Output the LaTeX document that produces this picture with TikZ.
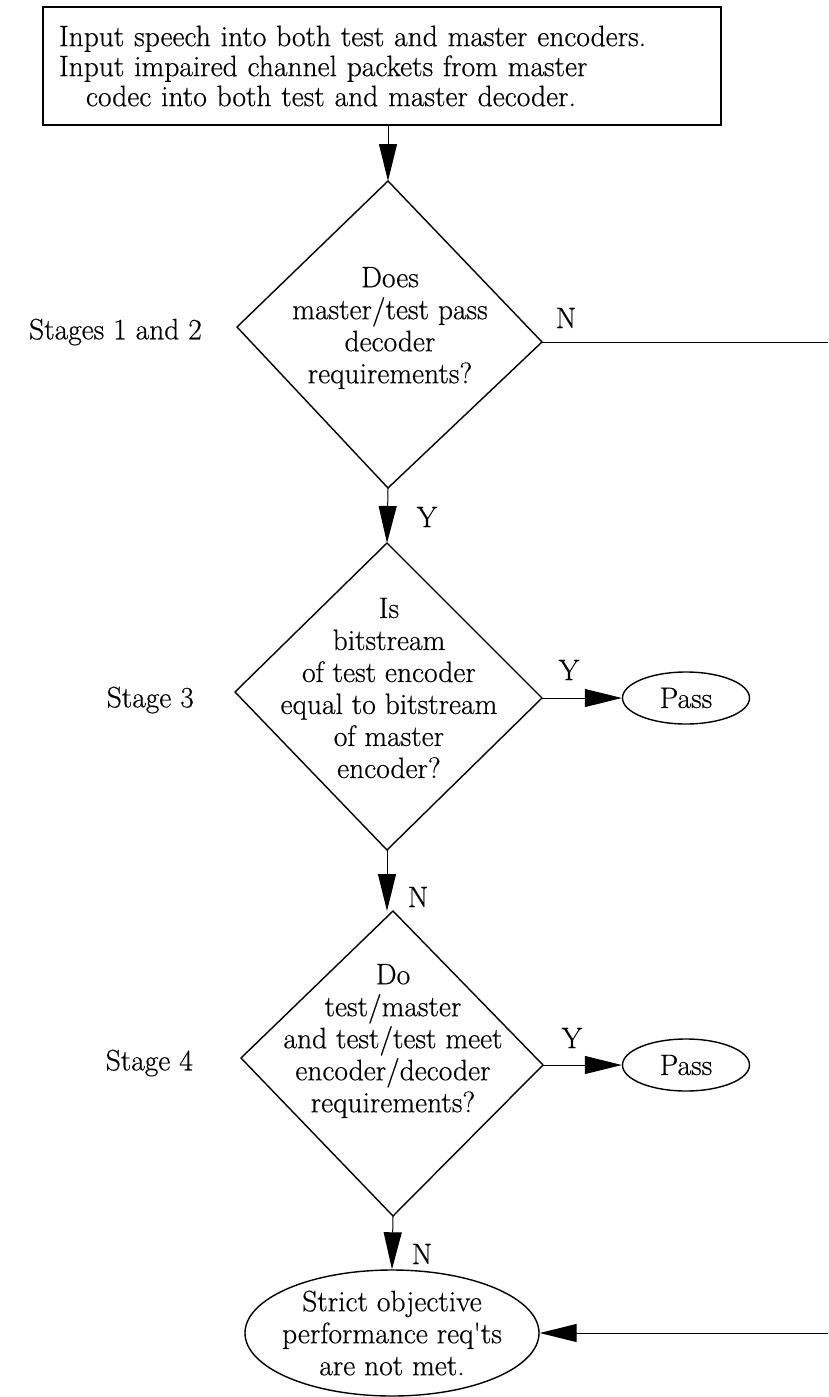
\documentclass[tikz,border=0pt]{standalone}
\usepackage{fontspec}
\newfontfamily\dgfont{Latin Modern Roman}[FakeBold=0.5]
\usetikzlibrary{arrows.meta,shapes.geometric}
\tikzset{
  txt/.style={align=center, inner sep=0pt, font=\dgfont\fontsize{29.5}{32}\selectfont},
  lbl/.style={inner sep=0pt, font=\dgfont\fontsize{29.5}{32}\selectfont},
  outline/.style={line width=1.4pt, line join=miter},
  conn/.style={line width=1pt},
  arr/.style={line width=1pt, -{Triangle[length=37pt,width=18pt]}},
  oval/.style={draw, ellipse, line width=1.4pt, inner sep=0pt, align=center,
    font=\dgfont\fontsize{29.5}{32}\selectfont},
  startbox/.style={draw, line width=2pt, minimum width=678pt, minimum height=118pt,
    text width=646pt, inner xsep=16pt, align=left,
    font=\dgfont\fontsize{29.5}{30}\selectfont}
}
\begin{document}
\begin{tikzpicture}[x=1pt,y=-1pt]
\useasboundingbox (0,0) rectangle (828,1397);

% start box
\node[startbox] (box) at (382,66) {Input speech into both test and master encoders.\\
Input impaired channel packets from master\\
\hspace*{27pt}codec into both test and master decoder.};

% diamond 1
\coordinate (d1t) at (388,181);
\coordinate (d1l) at (237,327);
\coordinate (d1r) at (542,342);
\coordinate (d1b) at (388,488);
\draw[outline] (d1t) -- (d1r) -- (d1b) -- (d1l) -- cycle;
\node[txt] (d1) at (390,328) {Does\\master/test pass\\decoder\\requirements?};

% diamond 2
\coordinate (d2t) at (387,543);
\coordinate (d2l) at (235,692);
\coordinate (d2r) at (542,698);
\coordinate (d2b) at (387,850);
\draw[outline] (d2t) -- (d2r) -- (d2b) -- (d2l) -- cycle;
\node[txt] (d2) at (389,688) {Is\\bitstream\\of test encoder\\equal to bitstream\\of master\\encoder?};

% diamond 3
\coordinate (d3t) at (393,911);
\coordinate (d3l) at (241,1058);
\coordinate (d3r) at (543,1065);
\coordinate (d3b) at (393,1216);
\draw[outline] (d3t) -- (d3r) -- (d3b) -- (d3l) -- cycle;
\node[txt] (d3) at (393,1041) {Do\\test/master\\and test/test meet\\encoder/decoder\\requirements?};

% ovals
\node[oval, minimum width=127pt, minimum height=52pt] (p1) at (686,698) {Pass};
\node[oval, minimum width=127pt, minimum height=52pt] (p2) at (686,1065) {Pass};
\node[oval, minimum width=294pt, minimum height=126pt, inner sep=-18pt] (fail) at (392,1333)
  {Strict objective\\performance req\textquotesingle ts\\are not met.};

% stage labels
\node[lbl, anchor=east] (s12) at (202,332) {Stages 1 and 2};
\node[lbl, anchor=east] (s3) at (194,700) {Stage 3};
\node[lbl, anchor=east] (s4) at (193,1063) {Stage 4};

% off-page ends
\coordinate (exit1) at (828,342);
\coordinate (exit2) at (828,1333);

% connectors
\draw[arr] (box.south -| d1t) -- (d1t);
\draw[arr] (d1b) -- (d2t);
\draw[arr] (d2b) -- (d2b |- d3t);
\draw[arr] (d3b) -- (fail.north);
\draw[arr] (d2r) -- (p1.west);
\draw[arr] (d3r) -- (p2.west);
\draw[conn] (d1r) -- (exit1);
\draw[arr] (exit2) -- (fail.east);

% edge labels
\node[lbl] (n1) at (566,318) {N};
\node[lbl] (y1) at (427,517) {Y};
\node[lbl] (y2) at (569,670) {Y};
\node[lbl] (n2) at (418,897) {N};
\node[lbl] (y3) at (572,1038) {Y};
\node[lbl] (n3) at (422,1254) {N};
\end{tikzpicture}
\end{document}
